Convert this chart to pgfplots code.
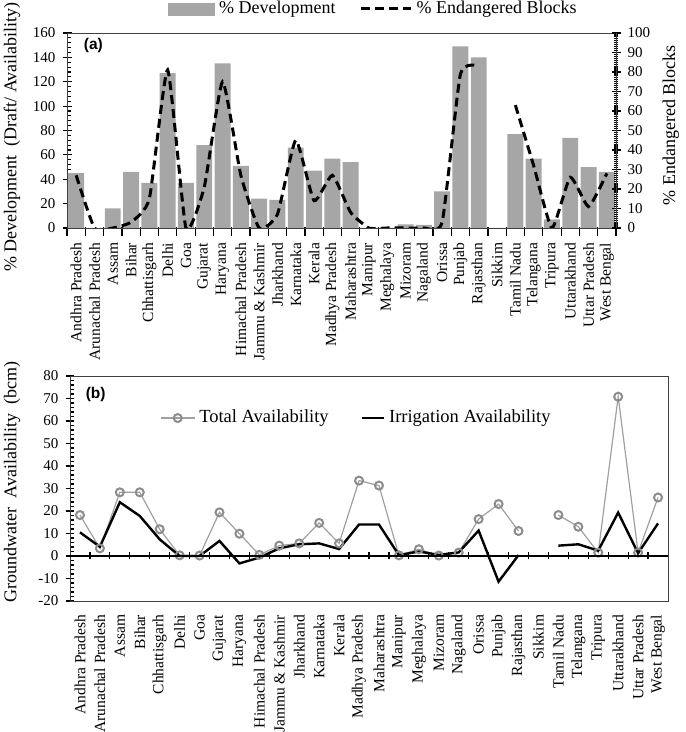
\documentclass[border=0pt]{standalone}
\usepackage{pgfplots}
\pgfplotsset{compat=1.18}
\usepackage{fontspec}
\setmainfont{Liberation Serif}
\newfontfamily\arial{Liberation Sans}

\definecolor{barg}{HTML}{A6A6A6}
\definecolor{totline}{HTML}{A0A0A0}
\definecolor{totmark}{HTML}{8C8C8C}
\definecolor{frame}{HTML}{404040}

\pgfplotsset{
  states/.style={
    xticklabels={Andhra Pradesh,Arunachal Pradesh,Assam,Bihar,Chhattisgarh,Delhi,Goa,Gujarat,Haryana,Himachal Pradesh,Jammu \& Kashmir,Jharkhand,Karnataka,Kerala,Madhya Pradesh,Maharashtra,Manipur,Meghalaya,Mizoram,Nagaland,Orissa,Punjab,Rajasthan,Sikkim,Tamil Nadu,Telangana,Tripura,Uttarakhand,Uttar Pradesh,West Bengal},
  },
  common/.style={
    scale only axis, anchor=south west,
    xmin=-0.5, xmax=29.5,
    /pgf/number format/assume math mode=true,
    tick label style={font=\fontsize{7.5}{8}\selectfont},
    axis line style={frame},
    tick style={black, line width=0.6pt},
    tick align=center, major tick length=4.5pt, minor tick length=2pt,
    minor tick style={xshift=1pt},
    minor y tick num=4,
  },
  barleg/.style={legend image code/.code={\fill[barg] (0pt,-3pt) rectangle (23pt,3pt);}},
  dashleg/.style={legend image code/.code={\draw[##1] (0pt,0pt) -- (25pt,0pt);}},
  totleg/.style={legend image code/.code={\draw[##1, mark repeat=2, mark phase=2] plot coordinates {(0pt,0pt) (8.5pt,0pt) (17pt,0pt)};}},
  irrleg/.style={legend image code/.code={\draw[##1] (0pt,0pt) -- (11pt,0pt);}},
}

\begin{document}
\begin{tikzpicture}
\useasboundingbox (0,0) rectangle (342.5pt,366pt);

% ---- (a) top, left axis: bars
\begin{axis}[common,
  at={(33.5pt,252pt)}, width=274.5pt, height=97.5pt,
  ymin=0, ymax=160, ytick={0,20,...,160}, ytick pos=left,
  xtick={-0.5,0.5,...,29.5}, x tick label as interval, states,
  xtick pos=bottom, xtick style={yshift=-1.75pt},
  xticklabel style={rotate=90, anchor=east, inner sep=0pt, font=\fontsize{7.75}{8}\selectfont},
  xticklabel shift=5pt,
  every axis y label/.style={at={(rel axis cs:-0.1,0.467)}, rotate=90, anchor=center, font=\fontsize{9}{10}\selectfont},
  ylabel={\% Development\ \ (Draft/ Availability)},
]
\addplot[ybar, bar width=0.87, fill=barg, draw=none] coordinates {
 (0,45) (1,0) (2,16) (3,46) (4,37) (5,127) (6,37) (7,68) (8,135) (9,51)
 (10,24) (11,23) (12,66) (13,47) (14,57) (15,54) (16,0) (17,0) (18,3) (19,2.5)
 (20,30) (21,149) (22,140) (23,0) (24,77) (25,57) (26,7) (27,74) (28,50) (29,46)};
\node[font=\arial\bfseries\fontsize{7.75}{8}\selectfont] at (rel axis cs:0.048,0.938) {(a)};
\end{axis}

% ---- (a) top, right axis: endangered blocks
\begin{axis}[common,
  at={(33.5pt,252pt)}, width=274.5pt, height=97.5pt,
  axis x line=none, axis y line*=right,
  ymin=0, ymax=100, ytick={0,10,...,100}, minor y tick num=9,
  minor tick style={xshift=-1pt},
  every axis y label/.style={at={(rel axis cs:1.1,0.528)}, rotate=90, anchor=center, font=\fontsize{9}{10}\selectfont},
  ylabel={\% Endangered Blocks},
  legend style={at={(rel axis cs:0.56,1.123)}, anchor=center, draw=none, fill=none,
    font=\fontsize{9}{10}\selectfont, /tikz/every even column/.append style={column sep=10pt}},
  legend columns=2,
]
\addlegendimage{barleg}
\addlegendentry{\% Development}
\addplot[black, line width=1.5pt, dash pattern=on 4.5pt off 2.5pt, smooth, tension=0.3, dashleg] coordinates {
 (0,27) (1,0) (2,0) (3,3) (4,15) (5,81) (6,0) (7,21) (8,75) (9,27)
 (10,0) (11,7) (12,45) (13,14) (14,27) (15,8) (16,0) (17,0) (18,0) (19,0)
 (20,3) (21,79) (22,83)};
\addlegendentry{\% Endangered Blocks}
\addplot[black, line width=1.5pt, dash pattern=on 4.5pt off 2.5pt, smooth, tension=0.3, forget plot] coordinates {
 (24,63) (25,32) (26,0) (27,26) (28,11) (29,28)};
\end{axis}

% ---- (b) bottom: availability
\begin{axis}[common,
  at={(35pt,65.5pt)}, width=299pt, height=112.5pt,
  ymin=-20, ymax=80, ytick={-20,-10,...,80},
  xtick={-0.5,0.5,...,29.5}, x tick label as interval, states,
  xtick pos=bottom, xtick style={draw=none},
  ytick pos=left,
  xticklabel style={rotate=90, anchor=east, inner sep=0pt, font=\fontsize{7.75}{8}\selectfont},
  xticklabel shift=4.5pt,
  every axis y label/.style={at={(rel axis cs:-0.097,0.529)}, rotate=90, anchor=center, font=\fontsize{9}{10}\selectfont},
  ylabel={Groundwater\ \ Availability\ \ (bcm)},
  unbounded coords=jump,
  legend style={at={(rel axis cs:0.14,0.813)}, anchor=west, draw=none, fill=none,
    font=\fontsize{9.25}{10}\selectfont, /tikz/every even column/.append style={column sep=14pt}},
  legend columns=2,
]
\addplot[totline, line width=0.6pt, mark=o, mark size=2pt, mark options={draw=totmark, line width=1pt}, totleg] coordinates {
 (0,18.2) (1,3.4) (2,28.3) (3,28.3) (4,11.9) (5,0.3) (6,0.2) (7,19.4) (8,9.9) (9,0.5)
 (10,4.6) (11,5.6) (12,14.7) (13,5.6) (14,33.5) (15,31.3) (16,0.3) (17,3) (18,0.2) (19,1.5)
 (20,16.4) (21,23.1) (22,11.1) (23,nan) (24,18.2) (25,13) (26,1.5) (27,70.8) (28,1.5) (29,26)};
\addlegendentry{Total Availability}
\addplot[black, line width=1.2pt, no marks, irrleg] coordinates {
 (0,10.5) (1,4.1) (2,23.9) (3,17.8) (4,7.4) (5,0) (6,0) (7,6.7) (8,-3.3) (9,-0.7)
 (10,3.4) (11,5.2) (12,5.6) (13,3.1) (14,14) (15,14) (16,0.4) (17,2) (18,0.5) (19,1.6)
 (20,11.3) (21,-11.4) (22,0.4) (23,nan) (24,4.6) (25,5.2) (26,2.4) (27,19.3) (28,1.2) (29,14.5)};
\addlegendentry{Irrigation Availability}
\node[font=\arial\bfseries\fontsize{7.75}{8}\selectfont] at (rel axis cs:0.043,0.916) {(b)};
\end{axis}

% ---- (b) zero line with category ticks
\begin{axis}[
  scale only axis, anchor=south west,
  at={(35pt,65.5pt)}, width=299pt, height=112.5pt,
  xmin=-0.5, xmax=29.5, ymin=-20, ymax=80,
  axis x line=middle, axis y line=none,
  axis line style={-, black, line width=0.7pt},
  xtick={0.5,1.5,...,28.5}, xticklabels={},
  tick style={black, line width=0.6pt}, tick align=center, major tick length=3.5pt,
]
\end{axis}
\end{tikzpicture}
\end{document}
